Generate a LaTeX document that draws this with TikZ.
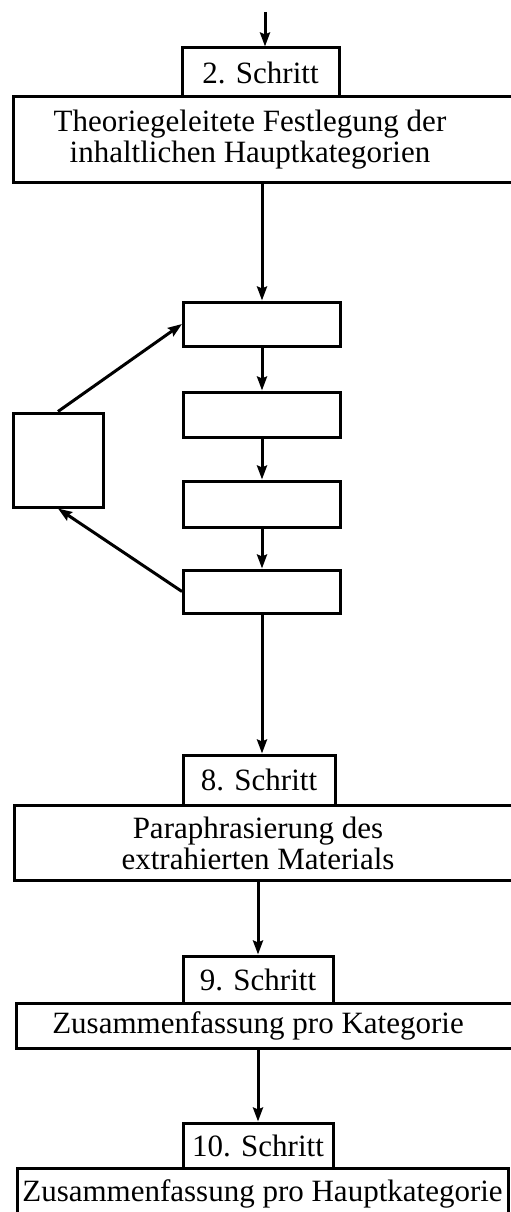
\documentclass[tikz,border=0pt]{standalone}
\usepackage{fontspec}
\setmainfont{Liberation Serif}
\usetikzlibrary{arrows.meta}

\begin{document}
\begin{tikzpicture}[x=1pt, y=-1pt,
		box/.style={draw, line width=3pt, inner sep=0pt, font=\fontsize{31}{31}\selectfont},
		box-text/.style={align=center, inner sep=0pt, font=\fontsize{31}{31}\selectfont},
		flow/.style={-{Stealth[length=14pt, width=10pt, inset=2pt]}, line width=3pt}]
				\clip (0, 0) rectangle (511, 1212);

				\coordinate (start) at (265, 12);

				\node[box, minimum width=157pt, minimum height=49pt] at (260.5, 72.5) (step-2) {2. Schritt};
				\node[box, minimum width=517pt, minimum height=85pt] at (271.5, 139.5) (theory) {};
				\node[box-text] at (250, 140) (theory-text) {Theoriegeleitete Festlegung der\\inhaltlichen Hauptkategorien};

				\node[box, minimum width=157pt, minimum height=44pt] at (262, 324) (step-3) {};
				\node[box, minimum width=157pt, minimum height=45pt] at (262, 414.5) (step-4) {};
				\node[box, minimum width=157pt, minimum height=46pt] at (262, 504) (step-5) {};
				\node[box, minimum width=157pt, minimum height=43pt] at (262, 591.5) (step-6) {};
				\node[box, minimum width=90pt, minimum height=94pt] at (58, 460) (revision) {};

				\node[box, minimum width=152pt, minimum height=50pt] at (259, 780) (step-8) {8. Schritt};
				\node[box, minimum width=516pt, minimum height=75pt] at (272, 842.5) (paraphrase) {};
				\node[box-text] at (258, 843) (paraphrase-text) {Paraphrasierung des\\extrahierten Materials};

				\node[box, minimum width=150pt, minimum height=47pt] at (258, 979.5) (step-9) {9. Schritt};
				\node[box, minimum width=514pt, minimum height=45pt] at (273, 1025.5) (summary) {};
				\node[box-text] at (258, 1026) (summary-text) {Zusammenfassung pro Kategorie};

				\node[box, minimum width=150pt, minimum height=45pt] at (258, 1145.5) (step-10) {10. Schritt};
				\node[box, minimum width=491pt, minimum height=52pt] at (262.5, 1194) (main-summary) {Zusammenfassung pro Hauptkategorie};

				\draw[flow] (start) -- (start |- step-2.north);
				\draw[flow] (step-3.north |- theory.south) -- (step-3.north);
				\draw[flow] (step-3) -- (step-4);
				\draw[flow] (step-4) -- (step-5);
				\draw[flow] (step-5) -- (step-6);
				\draw[flow] (step-6.south) -- (step-6.south |- step-8.north);
				\draw[flow] (step-9.north |- paraphrase.south) -- (step-9.north);
				\draw[flow] (step-10.north |- summary.south) -- (step-10.north);

				\draw[flow] (revision.north) -- (step-3.west);
				\draw[flow] (step-6.west) -- (revision.south);
			\end{tikzpicture}
\end{document}
